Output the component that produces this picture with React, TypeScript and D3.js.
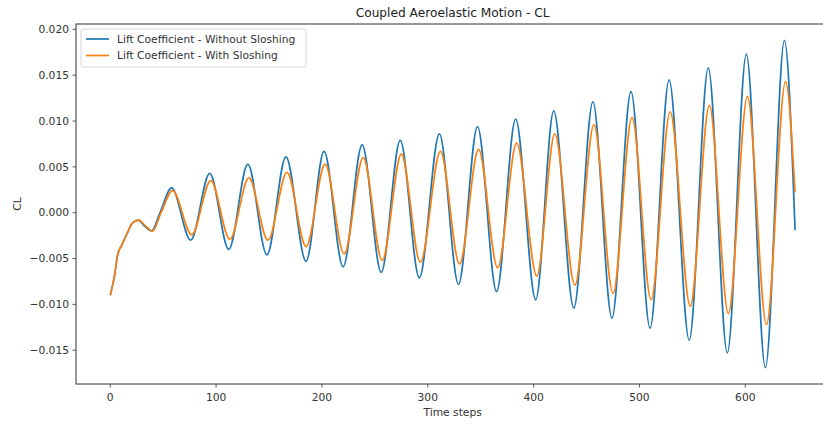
import React from "react";
import * as d3 from "d3";

// Blue series: Lift Coefficient - Without Sloshing (time step, CL)
const stepsWithout = [
  0, 4, 7, 11, 17, 21, 26.5, 32, 39, 47, 58, 76, 94, 112, 130, 148, 166, 185, 202, 220,
  238, 256, 274, 292, 311, 329, 347, 365, 383, 402, 419, 438, 456, 474, 492, 510, 528,
  547, 565, 583, 601, 619, 637, 647,
];
const clWithout = [
  -0.009, -0.0069, -0.0046, -0.0035, -0.002, -0.0011, -0.0008, -0.0014, -0.002, 0.0,
  0.0027, -0.003, 0.0043, -0.004, 0.0053, -0.0046, 0.0061, -0.0053, 0.0067, -0.0059,
  0.0074, -0.0065, 0.0079, -0.0071, 0.0086, -0.0078, 0.0094, -0.0086, 0.0102, -0.0095,
  0.0111, -0.0104, 0.0121, -0.0115, 0.0132, -0.0126, 0.0145, -0.0139, 0.0158, -0.0153,
  0.0173, -0.0169, 0.0188, -0.0019,
];

// Orange series: Lift Coefficient - With Sloshing (time step, CL)
const stepsWith = [
  0, 4, 7, 11, 17, 21, 27, 33, 40, 48, 59, 77, 95, 113, 131, 149, 167, 185, 203, 221,
  239, 257, 275, 293, 312, 330, 348, 366, 384, 403, 420, 439, 457, 475, 493, 511, 529,
  548, 566, 584, 602, 620, 638, 647,
];
const clWith = [
  -0.009, -0.0069, -0.0046, -0.0035, -0.002, -0.0011, -0.0008, -0.0014, -0.002, 0.0,
  0.0024, -0.0024, 0.0035, -0.0029, 0.0038, -0.003, 0.0044, -0.0037, 0.0053, -0.0045,
  0.006, -0.0052, 0.0064, -0.0054, 0.0067, -0.0056, 0.0069, -0.006, 0.0076, -0.0069,
  0.0086, -0.0079, 0.0096, -0.0088, 0.0104, -0.0095, 0.011, -0.0102, 0.0117, -0.011,
  0.0127, -0.0122, 0.0143, 0.0022,
];

const xTicks = [0, 100, 200, 300, 400, 500, 600];
const yTicks = [-0.015, -0.01, -0.005, 0.0, 0.005, 0.01, 0.015, 0.02];

const seriesNames = [
  "Lift Coefficient - Without Sloshing",
  "Lift Coefficient - With Sloshing",
];
const colors = ["#1f77b4", "#ff7f0e"];

const W = 823;
const H = 426;
const left = 76;
const top = 24;
const right = 829.3;
const bottom = 384;
const FONT = "DejaVu Sans, sans-serif";
const TXT = "#333";

export default function App() {
  const allX = [...stepsWithout, ...stepsWith];
  const allY = [...clWithout, ...clWith];
  const [x0, x1] = d3.extent(allX) as [number, number];
  const [y0, y1] = d3.extent(allY) as [number, number];
  const mx = (x1 - x0) * 0.05;
  const my = (y1 - y0) * 0.05;
  const x = d3.scaleLinear().domain([x0 - mx, x1 + mx]).range([left, right]);
  const y = d3.scaleLinear().domain([y0 - my, y1 + my]).range([bottom, top]);

  const line = d3
    .line<[number, number]>()
    .x((d) => x(d[0]))
    .y((d) => y(d[1]))
    .curve(d3.curveMonotoneX);

  const series = [
    stepsWithout.map((t, i) => [t, clWithout[i]] as [number, number]),
    stepsWith.map((t, i) => [t, clWith[i]] as [number, number]),
  ];

  const fmt = (v: number) => d3.format(".3f")(v).replace("-", "\u2212");
  const fs = 10.7;

  return (
    <svg
      width={W}
      height={H}
      style={{ position: "absolute", left: 0, top: 0, background: "#fff" }}
      fontFamily={FONT}
    >
      <rect x={0} y={0} width={W} height={H} fill="#fff" />
      <defs>
        <clipPath id="plotclip">
          <rect x={left} y={top} width={right - left} height={bottom - top} />
        </clipPath>
      </defs>
      <g clipPath="url(#plotclip)">
        {series.map((s, i) => (
          <path
            key={i}
            d={line(s) || ""}
            fill="none"
            stroke={colors[i]}
            strokeWidth={1.7}
            strokeLinejoin="round"
          />
        ))}
      </g>
      {/* spines */}
      <rect
        x={left}
        y={top}
        width={right - left}
        height={bottom - top}
        fill="none"
        stroke="#333"
        strokeWidth={1}
      />
      {/* x ticks */}
      {xTicks.map((t) => (
        <g key={"x" + t} transform={`translate(${x(t)},${bottom})`}>
          <line y1={0} y2={3.5} stroke="#333" strokeWidth={0.8} />
          <text y={17} textAnchor="middle" fontSize={fs} fill={TXT}>
            {t}
          </text>
        </g>
      ))}
      {/* y ticks */}
      {yTicks.map((t) => (
        <g key={"y" + t} transform={`translate(${left},${y(t)})`}>
          <line x1={0} x2={-3.5} stroke="#333" strokeWidth={0.8} />
          <text x={-7} dy="0.35em" textAnchor="end" fontSize={fs} fill={TXT}>
            {fmt(t)}
          </text>
        </g>
      ))}
      {/* axis labels */}
      <text x={(left + right) / 2} y={416} textAnchor="middle" fontSize={fs} fill={TXT}>
        Time steps
      </text>
      <text
        transform={`translate(21,${(top + bottom) / 2}) rotate(-90)`}
        textAnchor="middle"
        fontSize={fs}
        fill={TXT}
      >
        CL
      </text>
      {/* title */}
      <text x={(left + right) / 2} y={17} textAnchor="middle" fontSize={12.2} fill="#222">
        Coupled Aeroelastic Motion - CL
      </text>
      {/* legend */}
      <g>
        <rect
          x={81}
          y={29}
          width={225}
          height={38}
          rx={2}
          fill="#fff"
          fillOpacity={0.8}
          stroke="#ccc"
          strokeWidth={0.8}
        />
        {seriesNames.map((n, i) => (
          <g key={n} transform={`translate(0,${39 + i * 16.5})`}>
            <line x1={86} x2={109} y1={0} y2={0} stroke={colors[i]} strokeWidth={1.7} />
            <text x={117} dy="0.35em" fontSize={fs} fill={TXT}>
              {n}
            </text>
          </g>
        ))}
      </g>
    </svg>
  );
}
